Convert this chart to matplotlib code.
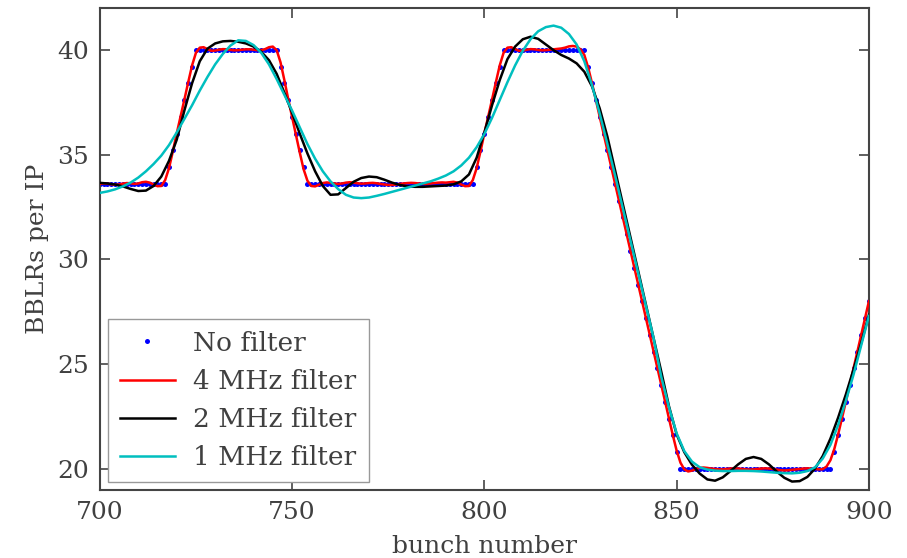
import matplotlib
matplotlib.use("Agg")
import matplotlib.pyplot as plt

plt.rcParams['font.family'] = ['DejaVu Serif']

# bunch numbers along the train
bunches = list(range(700, 901))
bunches_coarse = list(range(700, 901, 2))

# long-range beam-beam encounters per IP, unfiltered
no_filter = [
    33.6, 33.6, 33.6, 33.6, 33.6, 33.6, 33.6, 33.6, 33.6, 33.6,
    33.6, 33.6, 33.6, 33.6, 33.6, 33.6, 33.6, 33.6, 34.4, 35.2,
    36.0, 36.8, 37.6, 38.4, 39.2, 40.0, 40.0, 40.0, 40.0, 40.0,
    40.0, 40.0, 40.0, 40.0, 40.0, 40.0, 40.0, 40.0, 40.0, 40.0,
    40.0, 40.0, 40.0, 40.0, 40.0, 40.0, 40.0, 39.2, 38.4, 37.6,
    36.8, 36.0, 35.2, 34.4, 33.6, 33.6, 33.6, 33.6, 33.6, 33.6,
    33.6, 33.6, 33.6, 33.6, 33.6, 33.6, 33.6, 33.6, 33.6, 33.6,
    33.6, 33.6, 33.6, 33.6, 33.6, 33.6, 33.6, 33.6, 33.6, 33.6,
    33.6, 33.6, 33.6, 33.6, 33.6, 33.6, 33.6, 33.6, 33.6, 33.6,
    33.6, 33.6, 33.6, 33.6, 33.6, 33.6, 33.6, 33.6, 34.4, 35.2,
    36.0, 36.8, 37.6, 38.4, 39.2, 40.0, 40.0, 40.0, 40.0, 40.0,
    40.0, 40.0, 40.0, 40.0, 40.0, 40.0, 40.0, 40.0, 40.0, 40.0,
    40.0, 40.0, 40.0, 40.0, 40.0, 40.0, 40.0, 39.2, 38.4, 37.6,
    36.8, 36.0, 35.2, 34.4, 33.6, 32.8, 32.0, 31.2, 30.4, 29.6,
    28.8, 28.0, 27.2, 26.4, 25.6, 24.8, 24.0, 23.2, 22.4, 21.6,
    20.8, 20.0, 20.0, 20.0, 20.0, 20.0, 20.0, 20.0, 20.0, 20.0,
    20.0, 20.0, 20.0, 20.0, 20.0, 20.0, 20.0, 20.0, 20.0, 20.0,
    20.0, 20.0, 20.0, 20.0, 20.0, 20.0, 20.0, 20.0, 20.0, 20.0,
    20.0, 20.0, 20.0, 20.0, 20.0, 20.0, 20.0, 20.0, 20.0, 20.0,
    20.0, 20.8, 21.6, 22.4, 23.2, 24.0, 24.8, 25.6, 26.4, 27.2,
    28.0,
]

# 4 MHz low-pass filtered signal (one value per bunch)
filter_4mhz = [
    33.60, 33.62, 33.61, 33.58, 33.56, 33.57, 33.61, 33.64, 33.63, 33.60,
    33.62, 33.68, 33.70, 33.66, 33.57, 33.49, 33.50, 33.78, 34.35, 35.15,
    36.00, 36.80, 37.62, 38.45, 39.25, 39.85, 40.10, 40.12, 40.03, 39.95,
    39.96, 40.00, 40.03, 40.02, 39.99, 39.97, 39.98, 40.00, 40.02, 40.02,
    40.00, 39.98, 39.98, 40.03, 40.12, 40.15, 39.98, 39.40, 38.55, 37.65,
    36.80, 35.95, 35.10, 34.30, 33.75, 33.50, 33.48, 33.56, 33.64, 33.67,
    33.65, 33.62, 33.60, 33.62, 33.66, 33.68, 33.66, 33.63, 33.61, 33.62,
    33.64, 33.65, 33.63, 33.60, 33.57, 33.55, 33.55, 33.57, 33.60, 33.62,
    33.64, 33.65, 33.64, 33.62, 33.60, 33.60, 33.62, 33.64, 33.66, 33.67,
    33.66, 33.68, 33.70, 33.66, 33.57, 33.49, 33.50, 33.78, 34.35, 35.15,
    36.00, 36.80, 37.62, 38.45, 39.25, 39.85, 40.10, 40.12, 40.03, 39.95,
    39.96, 40.00, 40.03, 40.02, 39.99, 39.97, 39.98, 40.00, 40.02, 40.04,
    40.06, 40.10, 40.16, 40.18, 40.15, 40.02, 39.75, 39.15, 38.40, 37.60,
    36.80, 36.00, 35.20, 34.40, 33.60, 32.80, 32.00, 31.20, 30.40, 29.60,
    28.80, 28.00, 27.20, 26.40, 25.60, 24.80, 24.00, 23.20, 22.40, 21.62,
    20.88, 20.30, 19.98, 19.88, 19.92, 20.00, 20.05, 20.07, 20.05, 20.02,
    20.00, 19.98, 19.98, 20.00, 20.02, 20.03, 20.02, 20.00, 19.98, 19.97,
    19.98, 20.00, 20.02, 20.03, 20.02, 20.00, 19.97, 19.94, 19.93, 19.94,
    19.96, 19.98, 20.00, 20.02, 20.03, 20.02, 20.00, 19.98, 19.99, 20.12,
    20.42, 20.95, 21.65, 22.42, 23.20, 24.00, 24.80, 25.60, 26.40, 27.20,
    28.00,
]

# 2 MHz low-pass filtered signal (every second bunch)
filter_2mhz = [
    33.65, 33.62, 33.57, 33.48, 33.36,
    33.26, 33.28, 33.50, 33.95, 34.70,
    35.70, 37.10, 38.40, 39.45, 40.05,
    40.30, 40.40, 40.42, 40.38, 40.30,
    40.15, 39.90, 39.50, 38.85, 37.95,
    37.00, 36.00, 35.05, 34.20, 33.50,
    33.08, 33.10, 33.40, 33.70, 33.88,
    33.95, 33.92, 33.80, 33.66, 33.55,
    33.48, 33.46, 33.46, 33.48, 33.50,
    33.52, 33.58, 33.72, 34.05, 34.85,
    36.05, 37.35, 38.55, 39.55, 40.15,
    40.50, 40.62, 40.52, 40.25, 39.98,
    39.75, 39.58, 39.35, 38.95, 38.25,
    37.20, 35.85, 34.25, 32.65, 31.05,
    29.45, 27.85, 26.25, 24.65, 23.00,
    21.65, 20.80, 20.20, 19.78, 19.50,
    19.44, 19.60, 19.90, 20.22, 20.48,
    20.57, 20.48, 20.22, 19.88, 19.58,
    19.40, 19.42, 19.62, 20.02, 20.62,
    21.45, 22.45, 23.55, 24.75, 26.00,
    27.35,
]

# 1 MHz low-pass filtered signal (every second bunch)
filter_1mhz = [
    33.17, 33.24, 33.34, 33.48, 33.66,
    33.90, 34.20, 34.55, 34.95, 35.45,
    36.05, 36.70, 37.35, 38.05, 38.70,
    39.30, 39.80, 40.20, 40.45, 40.42,
    40.22, 39.85, 39.30, 38.60, 37.85,
    37.10, 36.30, 35.50, 34.80, 34.20,
    33.72, 33.35, 33.08, 32.95, 32.92,
    32.95, 33.03, 33.12, 33.22, 33.32,
    33.42, 33.52, 33.62, 33.72, 33.85,
    34.00, 34.20, 34.48, 34.85, 35.35,
    35.98, 36.75, 37.60, 38.45, 39.25,
    39.95, 40.50, 40.88, 41.08, 41.15,
    41.05, 40.75, 40.25, 39.45, 38.30,
    36.95, 35.50, 34.00, 32.45, 30.90,
    29.35, 27.80, 26.25, 24.40, 22.95,
    21.70, 20.85, 20.35, 20.08, 19.97,
    19.92, 19.90, 19.90, 19.91, 19.91,
    19.90, 19.88, 19.85, 19.82, 19.80,
    19.79, 19.82, 19.90, 20.08, 20.50,
    21.15, 22.10, 23.25, 24.50, 25.90,
    27.30,
]

x_ticks = [700, 750, 800, 850, 900]
y_ticks = [20, 25, 30, 35, 40]

text_color = '#404040'
frame_color = '#444444'

fig = plt.figure(figsize=(9.07, 5.58), dpi=100)
ax = fig.add_axes([0.110, 0.122, 0.848, 0.864])

ax.plot(bunches, no_filter, linestyle='none', marker='o', markersize=3.6,
        color='#0000ff', markeredgewidth=0, label='No filter', zorder=2)
ax.plot(bunches, filter_4mhz, color='#ff0000', linewidth=1.8,
        label='4 MHz filter', zorder=3)
ax.plot(bunches_coarse, filter_2mhz, color='#000000', linewidth=1.8,
        label='2 MHz filter', zorder=4)
ax.plot(bunches_coarse, filter_1mhz, color='#00bfbf', linewidth=1.8,
        label='1 MHz filter', zorder=5)

ax.set_xlim(700, 900)
ax.set_ylim(19, 42)
ax.set_xticks(x_ticks)
ax.set_yticks(y_ticks)
ax.tick_params(direction='in', length=7, width=1.2, top=True, right=True,
               labelsize=18, colors=frame_color, labelcolor=text_color, pad=8)
for spine in ax.spines.values():
    spine.set_color(frame_color)
    spine.set_linewidth(1.5)

ax.set_xlabel('bunch number', fontsize=18, color=text_color, labelpad=8)
ax.set_ylabel('BBLRs per IP', fontsize=18, color=text_color, labelpad=6)

leg = ax.legend(loc='lower left', fontsize=19, numpoints=1, fancybox=False,
                framealpha=1.0, borderaxespad=0.3, handlelength=2.1,
                handletextpad=0.7, labelspacing=0.5, borderpad=0.45)
leg.get_frame().set_edgecolor('#999999')
leg.get_frame().set_linewidth(1.0)
for t in leg.get_texts():
    t.set_color(text_color)

fig.savefig('out.png', dpi=100)
